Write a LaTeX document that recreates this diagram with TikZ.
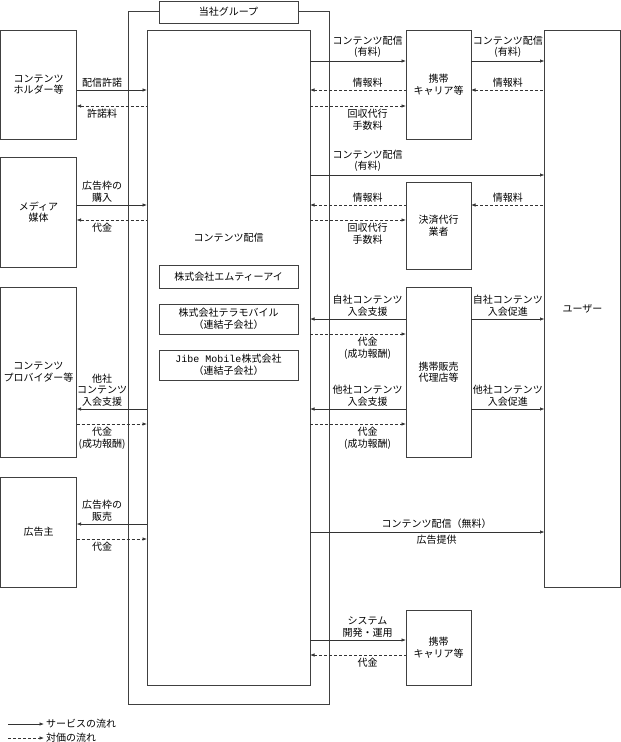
\documentclass[tikz,border=0pt]{standalone}
\usepackage{fontspec}
\setmainfont{Noto Sans CJK JP}
\newfontfamily\monofnt{Liberation Mono}
\usetikzlibrary{arrows.meta}
\begin{document}
\begin{tikzpicture}[x=1pt,y=-1pt,
  >={Latex[length=4.5pt,width=3.5pt]},
  every node/.style={font=\fontsize{10}{11.5}\selectfont},
  box/.style={draw=black!75, line width=0.7pt, rectangle, inner sep=0pt, outer sep=0pt, align=center},
  svc/.style={draw=black!80, line width=0.7pt},
  pay/.style={svc, dash pattern=on 3pt off 2pt},
  lbl/.style={align=center, inner sep=2.8pt}
]
\useasboundingbox (0,0) rectangle (621,742);

% group frame and main box
\node[box, minimum width=201pt, minimum height=693pt] (group) at (228.5,357.5) {};
\node[box, fill=white, minimum width=139pt, minimum height=22pt] (grouplbl) at (228.5,12) {当社グループ};
\node[box, minimum width=163pt, minimum height=655pt] (main) at (228.5,357.5) {};
\node (mainlbl) at (228.5,238) {コンテンツ配信};
\node[box, minimum width=139pt, minimum height=23pt] (mti) at (228.5,276.5) {株式会社エムティーアイ};
\node[box, minimum width=139pt, minimum height=30pt] (tera) at (228.5,319) {株式会社テラモバイル\\（連結子会社）};
\node[box, minimum width=139pt, minimum height=30pt] (jibe) at (228.5,365) {{\monofnt Jibe Mobile}株式会社\\（連結子会社）};

% left boxes
\node[box, minimum width=76pt, minimum height=109pt] (holder) at (38.5,84.5) {コンテンツ\\ホルダー等};
\node[box, minimum width=76pt, minimum height=110pt] (media) at (38.5,212) {メディア\\媒体};
\node[box, minimum width=76pt, minimum height=170pt] (prov) at (38.5,372) {コンテンツ\\プロバイダー等};
\node[box, minimum width=76pt, minimum height=110pt] (adv) at (38.5,532) {広告主};

% right middle boxes
\node[box, minimum width=65pt, minimum height=109pt] (car1) at (438.5,84.5) {携帯\\キャリア等};
\node[box, minimum width=65pt, minimum height=87pt] (kessai) at (438.5,225.5) {決済代行\\業者};
\node[box, minimum width=65pt, minimum height=170pt] (dairi) at (438.5,372) {携帯販売\\代理店等};
\node[box, minimum width=65pt, minimum height=75pt] (car2) at (438.5,647.5) {携帯\\キャリア等};

% user
\node[box, minimum width=76pt, minimum height=557pt] (user) at (582.5,308.5) {ユーザー};

% left flows
\draw[svc,->] (holder.east |- 0,90) -- node[lbl, above, pos=.362] {配信許諾} (main.west |- 0,90);
\draw[pay,<-] (holder.east |- 0,106) -- node[lbl, below, pos=.362] {許諾料} (main.west |- 0,106);
\draw[svc,->] (media.east |- 0,205) -- node[lbl, above, pos=.362] {広告枠の\\購入} (main.west |- 0,205);
\draw[pay,<-] (media.east |- 0,220) -- node[lbl, below, pos=.362] {代金} (main.west |- 0,220);
\draw[svc,<-] (prov.east |- 0,409) -- node[lbl, above, pos=.362] {他社\\コンテンツ\\入会支援} (main.west |- 0,409);
\draw[pay,->] (prov.east |- 0,424) -- node[lbl, below, pos=.362] {代金\\(成功報酬)} (main.west |- 0,424);
\draw[svc,<-] (adv.east |- 0,524) -- node[lbl, above, pos=.362] {広告枠の\\販売} (main.west |- 0,524);
\draw[pay,->] (adv.east |- 0,539) -- node[lbl, below, pos=.362] {代金} (main.west |- 0,539);

% right flows: carrier (top)
\draw[svc,->] (main.east |- 0,61) -- node[lbl, above, pos=.599] {コンテンツ配信\\(有料)} (car1.west |- 0,61);
\draw[svc,->] (car1.east |- 0,61) -- node[lbl, above] {コンテンツ配信\\(有料)} (user.west |- 0,61);
\draw[pay,<-] (main.east |- 0,90) -- node[lbl, above, pos=.599] {情報料} (car1.west |- 0,90);
\draw[pay,<-] (car1.east |- 0,90) -- node[lbl, above] {情報料} (user.west |- 0,90);
\draw[pay,->] (main.east |- 0,106) -- node[lbl, below, pos=.599] {回収代行\\手数料} (car1.west |- 0,106);

% payment agent
\draw[svc,->] (main.east |- 0,175) -- node[lbl, above, pos=.246] {コンテンツ配信\\(有料)} (user.west |- 0,175);
\draw[pay,<-] (main.east |- 0,205) -- node[lbl, above, pos=.599] {情報料} (kessai.west |- 0,205);
\draw[pay,<-] (kessai.east |- 0,205) -- node[lbl, above] {情報料} (user.west |- 0,205);
\draw[pay,->] (main.east |- 0,220) -- node[lbl, below, pos=.599] {回収代行\\手数料} (kessai.west |- 0,220);

% shop
\draw[svc,<-] (main.east |- 0,319) -- node[lbl, above, pos=.599] {自社コンテンツ\\入会支援} (dairi.west |- 0,319);
\draw[svc,->] (dairi.east |- 0,319) -- node[lbl, above] {自社コンテンツ\\入会促進} (user.west |- 0,319);
\draw[pay,->] (main.east |- 0,334) -- node[lbl, below, pos=.599] {代金\\(成功報酬)} (dairi.west |- 0,334);
\draw[svc,<-] (main.east |- 0,409) -- node[lbl, above, pos=.599] {他社コンテンツ\\入会支援} (dairi.west |- 0,409);
\draw[svc,->] (dairi.east |- 0,409) -- node[lbl, above] {他社コンテンツ\\入会促進} (user.west |- 0,409);
\draw[pay,->] (main.east |- 0,424) -- node[lbl, below, pos=.599] {代金\\(成功報酬)} (dairi.west |- 0,424);

% free content
\draw[svc,->] (main.east |- 0,532) -- node[lbl, above, pos=.54] {コンテンツ配信（無料）} node[lbl, below, pos=.54] {広告提供} (user.west |- 0,532);

% carrier (bottom)
\draw[svc,->] (main.east |- 0,640) -- node[lbl, above, pos=.599] {システム\\開発・運用} (car2.west |- 0,640);
\draw[pay,<-] (main.east |- 0,655) -- node[lbl, below, pos=.599] {代金} (car2.west |- 0,655);

% legend
\coordinate (lg1) at (8,724);
\coordinate (lg2) at (8,738);
\node[anchor=west, inner sep=2pt] (lgt1) at (44,724) {サービスの流れ};
\node[anchor=west, inner sep=2pt] (lgt2) at (44,738) {対価の流れ};
\draw[svc,->] (lg1) -- (lgt1.west);
\draw[pay,->] (lg2) -- (lgt2.west);
\end{tikzpicture}
\end{document}
